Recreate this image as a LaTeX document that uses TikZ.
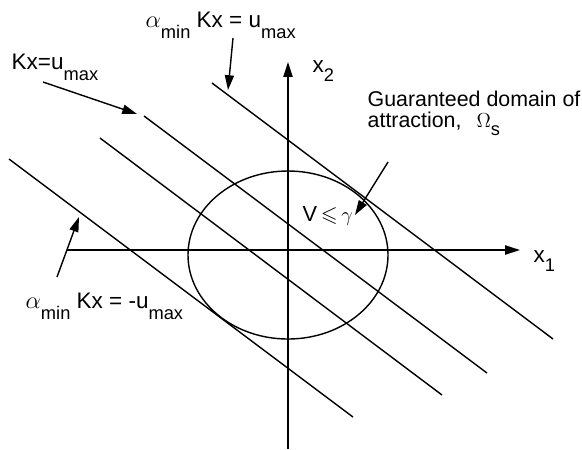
\documentclass[tikz,border=0pt]{standalone}
\usepackage{amssymb}
\usepackage{fontspec}
\setmainfont{Liberation Sans}
\usetikzlibrary{arrows.meta}
\newcommand{\lowsub}[2][8pt]{\raisebox{-#1}{\fontsize{13}{13}\selectfont #2}}

\begin{document}
\begin{tikzpicture}[x=0.025cm, y=-0.025cm, line width=1pt,
    >={Triangle[length=10.5pt,width=6.5pt]},
    lbl/.style={font=\fontsize{16}{14}\selectfont, inner sep=0pt, anchor=base west, align=left}]
  \useasboundingbox (0,0) rectangle (582,449);
  % region V <= gamma
  \draw (288,255) ellipse [x radius=100, y radius=84];
  % axes
  \coordinate (xstart) at (67,250);
  \coordinate (xend) at (520,250);
  \coordinate (ystart) at (288,449);
  \coordinate (yend) at (288,62);
  \draw[->] (xstart) -- (xend);
  \draw[->] (ystart) -- (yend);
  \node[lbl] (xone) at (533,262) {x\lowsub[7pt]{1}};
  \node[lbl] (xtwo) at (312,72) {x\lowsub[7pt]{2}};
  % constraint lines
  \coordinate (aup1) at (212,83);  \coordinate (aup2) at (553,339);
  \coordinate (kup1) at (144,116); \coordinate (kup2) at (487,373);
  \coordinate (klo1) at (100,138); \coordinate (klo2) at (442,395);
  \coordinate (alo1) at (9,159);   \coordinate (alo2) at (353,417);
  \draw (aup1) -- (aup2);
  \draw (kup1) -- (kup2);
  \draw (klo1) -- (klo2);
  \draw (alo1) -- (alo2);
  % labels
  \node[lbl] (alphaup) at (145,27) {$\alpha$\lowsub{min}\ Kx = u\lowsub{max}};
  \node[lbl] (kxup) at (11,69) {Kx=u\lowsub{max}};
  \node[lbl] (alphalo) at (25,308) {$\alpha$\lowsub{min}\ Kx = -u\lowsub{max}};
  \node[lbl, font=\fontsize{15.2}{14.5}\selectfont] (domain) at (367,127)
    {Guaranteed domain of\\attraction,\hspace{0.7em}$\Omega$\lowsub[6pt]{s}};
  \node[lbl, font=\fontsize{15.5}{15}\selectfont] (vgam) at (302,221) {V\,$\leqslant$\,$\gamma$};
  % arrows to the lines
  \coordinate (alphaupfrom) at (233,38);  \coordinate (alphaupto) at (228,90);
  \coordinate (kxupfrom) at (43,82);      \coordinate (kxupto) at (137,114);
  \coordinate (alphalofrom) at (57,277);  \coordinate (alphaloto) at (79,217);
  \coordinate (domainfrom) at (388,162);  \coordinate (domainto) at (355,215);
  \draw[->] (alphaupfrom) -- (alphaupto);
  \draw[->] (kxupfrom) -- (kxupto);
  \draw[->] (alphalofrom) -- (alphaloto);
  \draw[->] (domainfrom) -- (domainto);
\end{tikzpicture}
\end{document}
